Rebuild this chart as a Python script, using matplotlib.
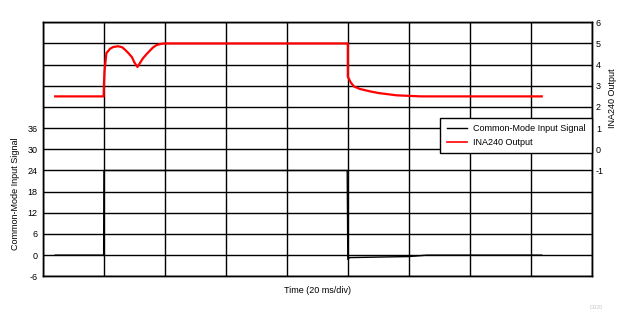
import matplotlib
matplotlib.use("Agg")
import matplotlib.pyplot as plt
from matplotlib.lines import Line2D

plt.rcParams["font.family"] = ["Liberation Sans", "DejaVu Sans"]

# time in divisions (20 ms/div)
t_cm = [0.2, 0.995, 1.0, 4.99, 5.0, 5.03, 5.5, 6.0, 6.3, 8.18]
v_cm = [0, 0, 24, 24, -1.2, -0.7, -0.55, -0.4, 0, 0]

t_out = [0.2, 0.995, 1.0, 1.01, 1.04, 1.1, 1.15, 1.23, 1.3, 1.34, 1.4, 1.46,
         1.5, 1.55, 1.6, 1.64, 1.7, 1.75, 1.8, 1.86, 1.92, 1.98, 5.0, 5.0,
         5.05, 5.1, 5.2, 5.36, 5.5, 5.8, 6.2, 8.18]
v_out = [2.5, 2.5, 3.1, 3.7, 4.54, 4.75, 4.83, 4.87, 4.82, 4.72, 4.55, 4.35,
         4.1, 3.89, 4.12, 4.3, 4.5, 4.65, 4.8, 4.92, 4.97, 5.0, 5.0, 3.43,
         3.15, 2.97, 2.85, 2.74, 2.66, 2.55, 2.5, 2.5]

left_ticks = [-6, 0, 6, 12, 18, 24, 30, 36]
right_ticks = [-1, 0, 1, 2, 3, 4, 5, 6]

fig = plt.figure(figsize=(6.31, 3.28), dpi=100)
ax = fig.add_axes([0.0681, 0.1576, 0.8696, 0.7744])
ax2 = ax.twinx()

fs = 6.5

# left axis: common-mode input
ax.plot(t_cm, v_cm, color="black", lw=1.0, zorder=3)
ax.set_xlim(0, 9)
ax.set_ylim(-6, 66)
ax.set_xticks(range(0, 10))
ax.set_xticklabels([])
ax.set_yticks(range(-6, 67, 6))
ax.set_yticklabels([str(v) if v in left_ticks else "" for v in range(-6, 67, 6)],
                   fontsize=fs)
ax.tick_params(length=0, pad=4)
ax.grid(True, color="black", lw=1.0)
ax.set_axisbelow(True)
ax.set_ylabel("Common-Mode Input Signal", fontsize=fs)
ax.yaxis.set_label_coords(-0.042, 0.324)
ax.set_xlabel("Time (20 ms/div)", fontsize=fs, labelpad=3)

# right axis: INA240 output
ax2.plot(t_out, v_out, color="red", lw=1.6, zorder=3)
ax2.set_ylim(-6, 6)
ax2.set_yticks(right_ticks)
ax2.set_yticklabels([str(v) for v in right_ticks], fontsize=fs)
ax2.tick_params(length=0, pad=3)
ax2.set_ylabel("INA240 Output", fontsize=fs)
ax2.yaxis.set_label_coords(1.03, 0.70)

for a in (ax, ax2):
    for s in a.spines.values():
        s.set_color("black")
        s.set_linewidth(1.0)

handles = [Line2D([], [], color="black", lw=1.0),
           Line2D([], [], color="red", lw=1.2)]
leg = ax2.legend(handles, ["Common-Mode Input Signal", "INA240 Output"],
                 loc="upper right", bbox_to_anchor=(1.0, 0.623),
                 borderaxespad=0, fontsize=fs, fancybox=False, framealpha=1,
                 edgecolor="black", handlelength=2.2, borderpad=0.7,
                 labelspacing=0.5, handletextpad=0.7)
leg.get_frame().set_linewidth(1.0)

fig.text(0.956, 0.064, "D020", fontsize=4, color="#c8c8c8", ha="right",
         va="center")

fig.savefig("out.png", dpi=100)
